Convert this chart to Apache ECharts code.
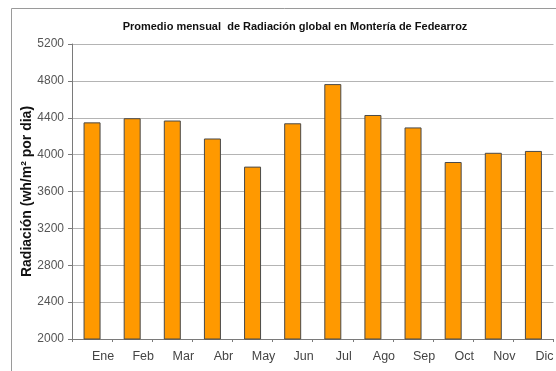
<!DOCTYPE html>
<html>
<head>
<meta charset="utf-8">
<script src="https://cdn.jsdelivr.net/npm/echarts@6/dist/echarts.min.js"></script>
<style>
  html, body { margin: 0; padding: 0; background: #fff; }
  #chart { width: 556px; height: 371px; }
</style>
</head>
<body>
<div id="chart"></div>
<script>
// Monthly mean global radiation, Montería (Fedearroz station)
const months = ['Ene', 'Feb', 'Mar', 'Abr', 'May', 'Jun', 'Jul', 'Ago', 'Sep', 'Oct', 'Nov', 'Dic'];
const radiation = [4350, 4395, 4370, 4175, 3870, 4340, 4765, 4430, 4295, 3920, 4020, 4040];
const yMin = 2000;
const yMax = 5200;
const yStep = 400;

const chart = echarts.init(document.getElementById('chart'), null, { renderer: 'canvas' });
const font = 'Liberation Sans, Arial, sans-serif';

chart.setOption({
  animation: false,
  backgroundColor: '#ffffff',
  textStyle: { fontFamily: font },
  graphic: [{
    type: 'rect',
    shape: { x: 11.5, y: 8.5, width: 700, height: 500 },
    style: { fill: 'none', stroke: '#9a9a9a', lineWidth: 1 },
    silent: true,
    z: -10
  }],
  title: {
    text: 'Promedio mensual  de Radiación global en Montería de Fedearroz',
    left: 290,
    top: 16,
    textAlign: 'center',
    textStyle: { fontSize: 11, fontWeight: 'bold', color: '#111', fontFamily: font }
  },
  grid: { left: 72, right: -8, top: 44, bottom: 32, containLabel: false },
  xAxis: {
    type: 'category',
    data: months,
    axisLine: { lineStyle: { color: '#7a7a7a', width: 1 } },
    axisTick: { show: true, length: 3, lineStyle: { color: '#7a7a7a' } },
    axisLabel: {
      color: '#444',
      fontSize: 12.5,
      margin: 11,
      padding: [0, 0, 0, 22],
      fontFamily: font
    }
  },
  yAxis: {
    type: 'value',
    min: yMin,
    max: yMax,
    interval: yStep,
    name: 'Radiación (wh/m² por dia)',
    nameLocation: 'middle',
    nameGap: 38,
    nameMoveOverlap: false,
    nameTextStyle: { fontSize: 14, fontWeight: 'bold', color: '#111', fontFamily: font },
    axisLine: { show: true, lineStyle: { color: '#7a7a7a', width: 1 } },
    axisTick: { show: true, length: 4, lineStyle: { color: '#7a7a7a' } },
    axisLabel: {
      color: '#555',
      fontSize: 12,
      margin: 8,
      fontFamily: font,
      formatter: (v) => String(v)
    },
    splitLine: { show: true, lineStyle: { color: '#b4b4b4', width: 1 } }
  },
  series: [{
    type: 'bar',
    data: radiation,
    barWidth: 17,
    itemStyle: {
      color: '#ff9900',
      borderColor: '#4a4a4a',
      borderWidth: 1
    }
  }]
});
</script>
</body>
</html>
